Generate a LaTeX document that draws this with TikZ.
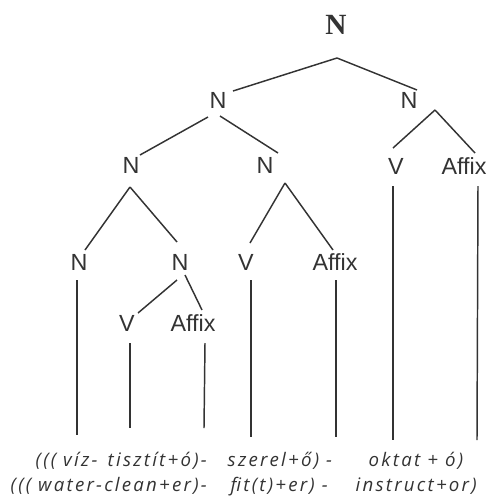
\documentclass[tikz,border=0pt]{standalone}
\usepackage{fontspec}
\setmainfont{Liberation Sans}
\newfontfamily\rootfont{Liberation Serif}
\newfontfamily\glossfont[LetterSpace=12]{Open Sans}
\usetikzlibrary{calc}

\begin{document}
\begin{tikzpicture}[x=0.75pt, y=-0.75pt, line width=1.1pt, color=black!80]
        \useasboundingbox (0, 0) rectangle (489, 497);
        \begin{scope}[every node/.style={inner sep=0pt, font=\fontsize{17.5}{20}\selectfont}]
            \node (1) at (336, 25) [font=\rootfont\bfseries\fontsize{22}{26}\selectfont] {N};
            \node (2) at (218, 100) {N};
            \node (3) at (409, 100) {N};
            \node (4) at (131, 165) {N};
            \node (5) at (265, 165) {N};
            \node (6) at (396, 166) {V};
            \node (7) at (464, 166) {Affix};
            \node (8) at (79, 262) {N};
            \node (9) at (180, 262) {N};
            \node (10) at (246, 262) {V};
            \node (11) at (335, 262) {Affix};
            \node (12) at (127, 323) {V};
            \node (13) at (193, 323) {Affix};
        \end{scope}

        \begin{scope}[every node/.style={anchor=base west, inner sep=0pt, font=\glossfont\itshape\fontsize{14}{16}\selectfont}]
            \node (g1) at (35, 466) {((( víz-};
            \node (g2) at (107, 466) {tisztít+ó)-};
            \node (g3) at (227, 466) {szerel+ő) -};
            \node (g4) at (368, 466) {oktat + ó)};
            \node (g5) at (10, 491) {((( water-clean+er)-};
            \node (g6) at (230, 491) {fit(t)+er) -};
            \node (g7) at (355, 491) {instruct+or)};
        \end{scope}

        % leaf ends
        \coordinate (e8) at (77, 435);
        \coordinate (e10) at (251, 437);
        \coordinate (e11) at (336, 437);
        \coordinate (e12) at (130, 428);
        \coordinate (e13) at (204, 428);
        \coordinate (e6) at (393, 440);
        \coordinate (e7) at (477, 440);

        \draw ($(1)+(1,33)$) -- ($(2)+(15,-9)$);
        \draw ($(1)+(1,33)$) -- ($(3)+(8,-10)$);
        \draw ($(2)+(-10,17)$) -- ($(4)+(9,-10)$);
        \draw ($(2)+(2,16)$) -- ($(5)+(13,-12)$);
        \draw ($(3)+(26,10)$) -- ($(6)+(-3,-18)$);
        \draw ($(3)+(26,10)$) -- ($(7)+(11,-13)$);
        \draw ($(4)+(-1,22)$) -- ($(8)+(6,-12)$);
        \draw ($(4)+(-1,22)$) -- ($(9)+(-3,-20)$);
        \draw ($(5)+(20,18)$) -- ($(10)+(4,-19)$);
        \draw ($(5)+(20,18)$) -- ($(11)+(-2,-12)$);
        \draw ($(9)+(-3,18)$) -- ($(12)+(11,-10)$);
        \draw ($(9)+(5,13)$) -- ($(13)+(9,-13)$);

        \draw ($(8)+(-2,18)$) -- (e8);
        \draw ($(10)+(5,18)$) -- (e10);
        \draw ($(11)+(1,18)$) -- (e11);
        \draw ($(12)+(3,20)$) -- (e12);
        \draw ($(13)+(12,20)$) -- (e13);
        \draw ($(6)+(-3,20)$) -- (e6);
        \draw ($(7)+(14,20)$) -- (e7);
    \end{tikzpicture}
\end{document}
